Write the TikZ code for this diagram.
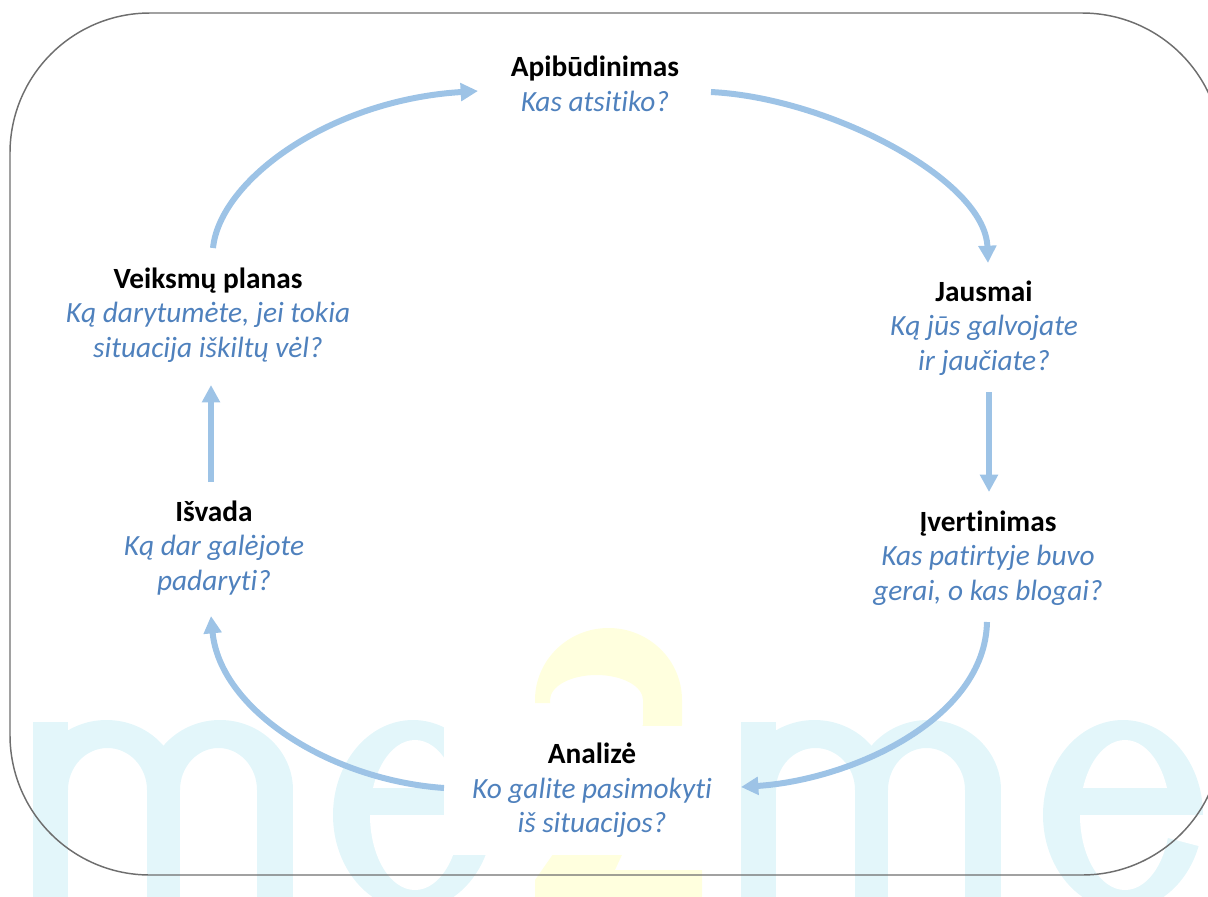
\documentclass[tikz,border=0pt]{standalone}
\usepackage{fontspec}
\setmainfont{Carlito}[Ligatures={NoCommon}]
\usetikzlibrary{arrows.meta}
\definecolor{wmcyan}{RGB}{227,246,250}
\definecolor{wmyellow}{RGB}{255,255,222}
\definecolor{framegray}{RGB}{110,110,110}
\definecolor{arrowblue}{RGB}{157,195,230}
\definecolor{textblue}{RGB}{79,129,189}
\newcommand\dtitle[1]{{\bfseries #1}}
\newcommand\dq[1]{{\itshape\color{textblue}#1}}
\begin{document}
\begin{tikzpicture}[x=0.75pt,y=-0.75pt,
  wmc/.style={fill=wmcyan},
  wmy/.style={fill=wmyellow},
  lbl/.style={align=center,font=\fontsize{22}{26}\selectfont,inner sep=2pt},
  flow/.style={draw=arrowblue,line width=4.5pt,-{Triangle[width=13pt,length=13pt]}}]
\useasboundingbox (0,0) rectangle (1208,897);
\clip (0,0) rectangle (1208,897);
% watermark "me2me"
\foreach \dx in {0,708}{
  \begin{scope}[shift={(\dx,0)}]
    % m
    \fill[wmc] (33,722) rectangle (68,910);
    \fill[wmc] (147,790) rectangle (180,910);
    \fill[wmc] (257,790) rectangle (293,910);
    \fill[wmc] (33,790) arc[start angle=180,end angle=360,x radius=73.5,y radius=70]
       -- (147,790) arc[start angle=360,end angle=180,x radius=39.5,y radius=42] -- cycle;
    \fill[wmc] (147,790) arc[start angle=180,end angle=360,x radius=73,y radius=70]
       -- (257,790) arc[start angle=360,end angle=180,x radius=38.5,y radius=42] -- cycle;
  \end{scope}
}
\foreach \dx in {0,710}{
  \begin{scope}[shift={(\dx,0)}]
    % e
    \fill[wmc] (413,815) ellipse[x radius=80,y radius=95];
    \fill[white] (415,815) ellipse[x radius=45,y radius=75];
    \fill[wmc] (360,788) rectangle (470,815);
    \fill[white] (455,815) -- (500,815) -- (500,849) -- (458,838) -- cycle;
  \end{scope}
}
% 2
\fill[wmy] (535,703) -- (535,700) arc[start angle=180,end angle=360,x radius=73.5,y radius=72]
  -- (682,725) -- (615,870) -- (702,870) -- (702,910) -- (535,910) -- (535,880) -- (643,725)
  -- (643,700) arc[start angle=360,end angle=180,x radius=46.5,y radius=25] -- (550,703) -- cycle;
% frame
\draw[framegray,line width=1.1pt,rounded corners=105pt] (10,13) rectangle (1222,875);
% nodes
\node[lbl] (apib) at (595,84) {\dtitle{Apibūdinimas}\\\dq{Kas atsitiko?}};
\node[lbl] (jaus) at (984,328) {\dtitle{Jausmai}\\\dq{Ką jūs galvojate}\\\dq{ir jaučiate?}};
\node[lbl] (iver) at (988,558) {\dtitle{Įvertinimas}\\\dq{Kas patirtyje buvo}\\\dq{gerai, o kas blogai?}};
\node[lbl,fill=white,minimum width=222pt,minimum height=96.75pt] (anal) at (592,790.5) {\dtitle{Analizė}\\\dq{Ko galite pasimokyti}\\\dq{iš situacijos?}};
\node[lbl] (isv) at (214,548) {\dtitle{Išvada}\\\dq{Ką dar galėjote}\\\dq{padaryti?}};
\node[lbl] (veik) at (208,315) {\dtitle{Veiksmų planas}\\\dq{Ką darytumėte, jei tokia}\\\dq{situacija iškiltų vėl?}};
% connector end points
\coordinate (a1s) at (213,248);
\coordinate (a1e) at (478,91);
\coordinate (a2s) at (711,92);
\coordinate (a2e) at (988,263);
\coordinate (a3s) at (989,392);
\coordinate (a3e) at (989,492);
\coordinate (a4s) at (987,622);
\coordinate (a4e) at (741,787);
\coordinate (a5s) at (444,788);
\coordinate (a5e) at (211,616);
\coordinate (a6s) at (211,482);
\coordinate (a6e) at (211,385);
% connectors
\draw[flow] (a1s) .. controls (220,180) and (330,100) .. (a1e);
\draw[flow] (a2s) .. controls (830,98) and (985,180) .. (a2e);
\draw[flow] (a3s) -- (a3e);
\draw[flow] (a4s) .. controls (985,720) and (850,780) .. (a4e);
\draw[flow] (a5s) .. controls (330,780) and (220,710) .. (a5e);
\draw[flow] (a6s) -- (a6e);
\end{tikzpicture}
\end{document}
